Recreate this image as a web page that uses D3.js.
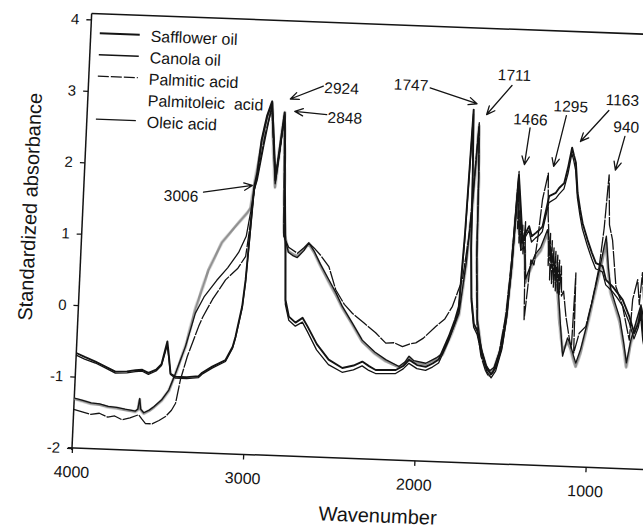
<!DOCTYPE html>
<html>
<head>
<meta charset="utf-8">
<script src="https://cdn.jsdelivr.net/npm/d3@7"></script>
<style>
  body { margin: 0; background: #fff; }
  svg { display: block; }
</style>
</head>
<body>
<svg id="chart" width="643" height="529"></svg>
<script>
// FTIR spectra, standardized absorbance vs. wavenumber (cm-1): [wavenumber, absorbance]
const safflowerOil = [
  [4000,-0.67],[3950,-0.72],[3886,-0.78],[3830,-0.84],[3767,-0.91],[3700,-0.90],[3650,-0.88],[3611,-0.87],
  [3574,-0.91],[3530,-0.86],[3500,-0.78],[3486,-0.62],[3472,-0.46],[3460,-0.65],[3445,-0.91],[3415,-0.95],
  [3350,-0.95],[3281,-0.93],[3261,-0.88],[3204,-0.79],[3128,-0.69],[3090,-0.50],[3076,-0.36],[3045,0.07],
  [3032,0.44],[3020,1.05],[3006,1.75],[2992,1.95],[2976,2.40],[2950,2.75],[2924,2.95],[2905,2.45],
  [2885,1.85],[2868,2.30],[2848,2.80],[2838,2.35],[2829,1.82],[2807,0.88],[2794,0.18],[2770,-0.05],
  [2730,-0.13],[2690,-0.06],[2658,-0.18],[2600,-0.42],[2527,-0.63],[2445,-0.74],[2380,-0.70],[2330,-0.64],
  [2290,-0.70],[2250,-0.75],[2133,-0.74],[2090,-0.68],[2058,-0.59],[2010,-0.66],[1959,-0.68],[1920,-0.63],
  [1885,-0.57],[1832,-0.24],[1800,0.00],[1782,0.18],[1765,1.20],[1747,2.94],[1735,2.00],[1725,1.00],
  [1710,0.30],[1690,-0.05],[1668,-0.15],[1634,-0.45],[1600,-0.68],[1575,-0.75],[1550,-0.65],[1520,-0.35],
  [1500,0.10],[1485,0.80],[1466,2.05],[1447,1.61],[1428,1.15],[1410,1.25],[1393,1.34],[1375,1.20],
  [1352,1.25],[1330,1.30],[1315,1.34],[1284,1.77],[1246,1.82],[1228,1.89],[1200,1.96],[1180,2.20],
  [1163,2.46],[1150,2.35],[1137,2.25],[1119,1.83],[1100,1.60],[1082,1.41],[1049,1.18],[1020,1.00],
  [994,0.86],[954,0.82],[931,0.63],[890,0.54],[859,0.45],[828,0.36],[785,0.13],[752,-0.10],
  [730,0.05],[720,0.25],[700,-0.10],[680,-0.30],[650,-0.40]
];
const canolaOil = [
  [4000,-0.70],[3950,-0.75],[3886,-0.80],[3830,-0.86],[3767,-0.93],[3700,-0.92],[3650,-0.90],[3611,-0.89],
  [3574,-0.93],[3530,-0.88],[3500,-0.80],[3486,-0.66],[3472,-0.52],[3460,-0.68],[3445,-0.92],[3415,-0.97],
  [3350,-0.97],[3281,-0.95],[3261,-0.90],[3204,-0.81],[3128,-0.71],[3090,-0.52],[3076,-0.38],[3045,0.04],
  [3032,0.40],[3020,1.00],[3006,1.72],[2992,1.92],[2976,2.38],[2950,2.72],[2924,2.93],[2905,2.40],
  [2885,1.90],[2868,2.25],[2848,2.77],[2838,2.30],[2829,1.78],[2807,0.82],[2794,0.12],[2770,-0.10],
  [2730,-0.18],[2690,-0.12],[2658,-0.25],[2600,-0.50],[2527,-0.70],[2445,-0.80],[2380,-0.76],[2330,-0.70],
  [2290,-0.76],[2250,-0.80],[2133,-0.79],[2090,-0.72],[2058,-0.64],[2010,-0.71],[1959,-0.73],[1920,-0.68],
  [1885,-0.62],[1832,-0.30],[1800,-0.05],[1782,0.12],[1765,1.10],[1747,2.88],[1735,1.95],[1725,0.95],
  [1710,0.25],[1690,-0.10],[1668,-0.20],[1634,-0.50],[1600,-0.72],[1575,-0.80],[1550,-0.70],[1520,-0.40],
  [1500,0.05],[1485,0.75],[1466,2.00],[1447,1.55],[1428,1.10],[1410,1.20],[1393,1.28],[1375,1.12],
  [1352,1.18],[1330,1.22],[1315,1.27],[1284,1.68],[1246,1.74],[1228,1.80],[1200,1.88],[1180,2.10],
  [1163,2.38],[1150,2.28],[1137,2.15],[1119,1.76],[1100,1.52],[1082,1.33],[1049,1.10],[1020,0.92],
  [994,0.78],[954,0.74],[931,0.56],[890,0.47],[859,0.38],[828,0.28],[785,0.05],[752,-0.18],
  [730,-0.02],[720,0.15],[700,-0.20],[680,-0.40],[650,-0.50]
];
const palmiticAcid = [
  [4000,-1.46],[3950,-1.49],[3900,-1.52],[3850,-1.50],[3800,-1.55],[3760,-1.53],[3715,-1.58],[3670,-1.55],
  [3620,-1.50],[3600,-1.56],[3578,-1.62],[3540,-1.62],[3500,-1.57],[3463,-1.51],[3430,-1.42],[3408,-1.32],
  [3386,-0.99],[3352,-0.66],[3293,-0.23],[3272,-0.10],[3220,0.15],[3149,0.43],[3080,0.60],[3038,0.77],
  [3020,1.20],[3006,1.68],[2985,2.00],[2955,2.50],[2924,2.85],[2905,2.35],[2885,1.90],[2868,2.25],
  [2848,2.75],[2835,2.00],[2821,1.07],[2790,0.92],[2737,0.84],[2700,0.92],[2673,0.99],[2640,0.92],
  [2600,0.82],[2550,0.67],[2504,0.35],[2450,0.15],[2401,0.03],[2330,-0.10],[2260,-0.23],[2198,-0.37],
  [2150,-0.36],[2100,-0.41],[2060,-0.37],[2023,-0.35],[1980,-0.28],[1911,-0.11],[1860,0.00],[1819,0.18],
  [1790,0.40],[1768,0.56],[1740,1.20],[1711,2.76],[1700,2.00],[1690,0.80],[1670,-0.10],[1640,-0.50],
  [1610,-0.70],[1590,-0.78],[1565,-0.72],[1535,-0.45],[1505,0.10],[1485,0.90],[1466,2.10],[1460,1.30],
  [1455,1.55],[1448,1.10],[1442,1.50],[1436,1.00],[1430,1.35],[1422,0.95],[1415,1.40],[1405,0.60],
  [1398,0.03],[1390,0.31],[1374,0.87],[1355,0.80],[1340,1.16],[1322,1.72],[1295,2.09],[1285,1.50],
  [1278,1.30],[1272,0.80],[1266,1.25],[1260,0.60],[1254,1.15],[1248,0.55],[1242,1.05],[1236,0.50],
  [1230,1.00],[1224,0.45],[1218,0.95],[1212,0.42],[1206,0.88],[1200,0.40],[1194,0.80],[1186,0.38],
  [1175,0.45],[1155,0.10],[1130,-0.20],[1115,-0.35],[1108,0.71],[1100,-0.41],[1073,-0.13],[1036,-0.03],
  [1004,0.35],[974,0.81],[955,1.35],[940,2.10],[925,1.40],[903,1.19],[871,0.54],[827,0.27],
  [800,0.00],[779,-0.20],[770,0.37],[746,0.65],[730,0.30],[720,0.75],[700,0.20],[680,-0.10],[650,0.10]
];
const palmitoleicAcid = [
  [4000,-1.31],[3950,-1.34],[3900,-1.37],[3850,-1.38],[3800,-1.41],[3750,-1.42],[3700,-1.44],[3640,-1.46],
  [3626,-1.43],[3618,-1.29],[3610,-1.43],[3591,-1.48],[3560,-1.44],[3534,-1.39],[3490,-1.29],[3451,-1.15],
  [3416,-0.91],[3365,-0.52],[3316,0.02],[3251,0.56],[3180,0.95],[3100,1.20],[3040,1.38],[3022,1.45],
  [3006,1.78],[2985,2.15],[2955,2.60],[2924,2.93],[2905,2.30],[2885,1.75],[2868,2.30],[2848,2.80],
  [2835,2.10],[2821,1.12],[2790,0.86],[2760,0.82],[2737,0.80],[2700,0.90],[2673,0.98],[2640,0.86],
  [2600,0.68],[2550,0.47],[2500,0.27],[2461,0.10],[2400,-0.12],[2336,-0.36],[2260,-0.52],[2194,-0.62],
  [2115,-0.70],[2080,-0.64],[2059,-0.56],[2030,-0.62],[1960,-0.65],[1900,-0.57],[1865,-0.50],[1820,-0.22],
  [1779,0.07],[1750,0.78],[1730,1.55],[1711,2.72],[1700,2.00],[1690,0.90],[1670,0.00],[1640,-0.42],
  [1610,-0.64],[1585,-0.72],[1560,-0.67],[1530,-0.42],[1505,-0.02],[1485,0.68],[1466,1.90],[1450,1.25],
  [1435,1.05],[1413,1.00],[1400,0.55],[1380,0.70],[1350,0.90],[1320,1.00],[1285,1.25],[1260,0.95],
  [1240,0.78],[1210,0.45],[1190,0.00],[1164,-0.40],[1140,-0.25],[1120,-0.35],[1100,-0.50],[1085,-0.60],
  [1060,-0.40],[1030,-0.05],[1000,0.35],[970,0.72],[940,1.15],[920,0.75],[900,0.45],[870,0.25],
  [840,0.05],[810,-0.30],[790,-0.58],[770,-0.25],[750,-0.05],[720,0.25],[700,0.05],[680,-0.25],[650,-0.15]
];
const oleicAcid = [
  [4000,-1.30],[3950,-1.33],[3900,-1.36],[3850,-1.37],[3800,-1.40],[3750,-1.41],[3700,-1.43],[3640,-1.45],
  [3626,-1.42],[3618,-1.27],[3610,-1.42],[3591,-1.47],[3560,-1.43],[3534,-1.38],[3490,-1.28],[3451,-1.14],
  [3416,-0.90],[3365,-0.52],[3316,-0.05],[3270,0.18],[3200,0.42],[3140,0.60],[3080,0.82],[3040,1.05],
  [3020,1.40],[3006,1.70],[2990,1.85],[2960,2.35],[2924,2.90],[2905,2.40],[2885,1.80],[2868,2.20],
  [2848,2.78],[2835,2.00],[2821,1.10],[2790,0.85],[2760,0.80],[2737,0.78],[2700,0.88],[2673,0.99],
  [2640,0.88],[2600,0.70],[2550,0.50],[2500,0.30],[2461,0.12],[2400,-0.10],[2336,-0.34],[2260,-0.50],
  [2194,-0.60],[2115,-0.69],[2080,-0.62],[2059,-0.54],[2030,-0.60],[1960,-0.63],[1900,-0.55],[1865,-0.48],
  [1820,-0.20],[1779,0.09],[1750,0.80],[1730,1.60],[1711,2.70],[1700,2.00],[1690,0.90],[1670,0.00],
  [1640,-0.40],[1610,-0.62],[1585,-0.70],[1560,-0.65],[1530,-0.40],[1505,0.00],[1485,0.70],[1466,1.95],
  [1450,1.30],[1435,1.00],[1413,1.05],[1400,0.60],[1380,0.75],[1350,0.95],[1320,1.05],[1285,1.30],
  [1260,1.00],[1240,0.85],[1210,0.55],[1190,0.10],[1164,-0.46],[1140,-0.20],[1120,-0.30],[1100,-0.45],
  [1085,-0.55],[1060,-0.35],[1030,0.00],[1000,0.40],[970,0.80],[940,1.24],[920,0.80],[900,0.50],
  [870,0.30],[840,0.10],[810,-0.25],[790,-0.52],[770,-0.20],[750,0.00],[720,0.30],[700,0.10],
  [680,-0.20],[650,-0.10]
];

const seriesNames = ["Safflower oil", "Canola oil", "Palmitic acid", "Palmitoleic  acid", "Oleic acid"];
const xTicks = [4000, 3000, 2000, 1000];
const yTicks = [-2, -1, 0, 1, 2, 3, 4];

// Band assignments marked with arrows
const peakLabels = ["3006", "2924", "2848", "1747", "1711", "1466", "1295", "1163", "940"];
const peakWavenumbers = [3006, 2924, 2848, 1747, 1711, 1466, 1295, 1163, 940];
const peakAbsorbance = [1.75, 2.95, 2.80, 2.94, 2.78, 2.10, 2.09, 2.46, 2.10];

// ---- drawing ----
const FONT = "'Liberation Sans', Arial, Helvetica, sans-serif";
const INK = "#141414";

const svg = d3.select("#chart");
svg.append("rect").attr("width", 643).attr("height", 529).attr("fill", "#fff");

const x = d3.scaleLinear().domain([4000, 400]).range([0, 616.8]);
const y = d3.scaleLinear().domain([-2, 4]).range([0, -429]);
const frameTop = y(4) - 6;
const frameRight = x(400);

// the whole figure sits slightly tilted on the page
const root = svg.append("g")
  .attr("transform", "matrix(0.9993,0.0375,-0.0452,0.999,72,448)")
  .style("font-family", FONT);

const defs = root.append("defs");
defs.append("clipPath").attr("id", "plot-clip")
  .append("rect").attr("x", 0).attr("y", frameTop).attr("width", frameRight).attr("height", -frameTop);
defs.append("filter").attr("id", "soft").attr("x", "-5%").attr("y", "-5%").attr("width", "110%").attr("height", "110%")
  .append("feGaussianBlur").attr("stdDeviation", 0.7);

// frame lines
const frame = root.append("g").attr("stroke", INK).attr("stroke-width", 1.5).attr("fill", "none");
frame.append("line").attr("x1", 0).attr("x2", 0).attr("y1", 2).attr("y2", frameTop);
frame.append("line").attr("x1", -4).attr("x2", frameRight).attr("y1", 0).attr("y2", 0);
frame.append("line").attr("x1", 0).attr("x2", frameRight).attr("y1", frameTop).attr("y2", frameTop);

// axes
const yAxisG = root.append("g")
  .call(d3.axisLeft(y).tickValues(yTicks).tickSize(5).tickPadding(7).tickFormat(d => String(d)));
const xAxisG = root.append("g")
  .call(d3.axisBottom(x).tickValues(xTicks).tickSize(5).tickPadding(13).tickFormat(d => String(d)));
[yAxisG, xAxisG].forEach(g => {
  g.attr("font-family", null).attr("font-size", null);
  g.select(".domain").remove();
  g.selectAll(".tick line").attr("stroke", INK).attr("stroke-width", 1.3);
  g.selectAll(".tick text").attr("fill", INK).style("font-family", FONT);
});
yAxisG.selectAll(".tick text").style("font-size", "15px");
xAxisG.selectAll(".tick text").style("font-size", "16px");

// axis titles
root.append("text")
  .attr("x", (x.range()[0] + x.range()[1]) / 2).attr("y", 63)
  .attr("text-anchor", "middle").attr("fill", INK).style("font-size", "20px")
  .text("Wavenumber");
root.append("text")
  .attr("transform", `translate(-46,${(y(4) + y(-2)) / 2 - 25}) rotate(-90)`)
  .attr("text-anchor", "middle").attr("fill", INK).style("font-size", "20px")
  .text("Standardized absorbance");

// spectra
const styles = {
  "Safflower oil":     { stroke: INK, width: 1.9 },
  "Canola oil":        { stroke: INK, width: 1.3 },
  "Palmitic acid":     { stroke: INK, width: 1.3, dash: "16,1.2", legendDash: "11,2" },
  "Palmitoleic  acid": { stroke: "#8f8f8f", width: 2.6, soft: true },
  "Oleic acid":        { stroke: INK, width: 1.3 }
};
const seriesValues = {
  "Safflower oil": safflowerOil,
  "Canola oil": canolaOil,
  "Palmitic acid": palmiticAcid,
  "Palmitoleic  acid": palmitoleicAcid,
  "Oleic acid": oleicAcid
};
const drawOrder = ["Palmitoleic  acid", "Oleic acid", "Palmitic acid", "Canola oil", "Safflower oil"];

const line = d3.line().x(d => x(d[0])).y(d => y(d[1]));
const plot = root.append("g").attr("clip-path", "url(#plot-clip)");
drawOrder.forEach(name => {
  const s = styles[name];
  plot.append("path")
    .datum(seriesValues[name])
    .attr("d", line)
    .attr("fill", "none")
    .attr("stroke", s.stroke)
    .attr("stroke-width", s.width)
    .attr("stroke-linejoin", "round")
    .attr("stroke-dasharray", s.dash || null)
    .attr("filter", s.soft ? "url(#soft)" : null);
});

// legend
const legend = root.append("g").attr("transform", "translate(9,-415.5)");
seriesNames.forEach((name, i) => {
  const s = styles[name];
  const row = legend.append("g").attr("transform", `translate(0,${i * 21.5})`);
  row.append("line")
    .attr("x1", 0).attr("x2", s.soft ? 30 : 40).attr("y1", 0).attr("y2", 0)
    .attr("stroke", s.soft ? "#bdbdbd" : s.stroke)
    .attr("stroke-width", s.soft ? 2.4 : Math.max(1.3, s.width))
    .attr("stroke-dasharray", s.legendDash || null)
    .attr("filter", s.soft ? "url(#soft)" : null);
  row.append("text")
    .attr("x", 51).attr("y", 6.6)
    .attr("fill", INK).style("font-size", "16px").style("white-space", "pre")
    .text(name);
});

// peak callouts: tip offset from the peak, tail offset from the tip, text offset from the tail
const calloutLayout = [
  { tip: [-2, -1],  tail: [-48.5, 8.5],   text: [-5, 10],   anchor: "end" },
  { tip: [18, -3],  tail: [32.4, -14.2],  text: [1, 7],     anchor: "start" },
  { tip: [10, -1.5], tail: [32, 2],       text: [1, 8],     anchor: "start" },
  { tip: [3, -6],   tail: [-47.5, -14],   text: [-2, 3],    anchor: "end" },
  { tip: [7, -7],   tail: [24, -30],      text: [2, -5],    anchor: "middle" },
  { tip: [5, -7],   tail: [4, -37],       text: [0, -3],    anchor: "middle" },
  { tip: [5, -7],   tail: [10.4, -51.2],  text: [4, -4],    anchor: "middle" },
  { tip: [8, -6.5], tail: [27, -32],      text: [13, -5.5], anchor: "middle" },
  { tip: [6, -5],   tail: [8, -34],       text: [-12, -4],  anchor: "start" }
];

const callouts = root.append("g");
peakLabels.forEach((label, i) => {
  const L = calloutLayout[i];
  const px = x(peakWavenumbers[i]), py = y(peakAbsorbance[i]);
  const tx = px + L.tip[0], ty = py + L.tip[1];
  const sx = tx + L.tail[0], sy = ty + L.tail[1];
  const ang = Math.atan2(ty - sy, tx - sx);
  const head = 9, spread = 0.42;
  const h1 = [tx - head * Math.cos(ang - spread), ty - head * Math.sin(ang - spread)];
  const h2 = [tx - head * Math.cos(ang + spread), ty - head * Math.sin(ang + spread)];
  callouts.append("path")
    .attr("d", `M${sx},${sy}L${tx},${ty}M${h1[0]},${h1[1]}L${tx},${ty}L${h2[0]},${h2[1]}`)
    .attr("fill", "none").attr("stroke", INK).attr("stroke-width", 1.3)
    .attr("stroke-linecap", "round").attr("stroke-linejoin", "round");
  callouts.append("text")
    .attr("x", sx + L.text[0]).attr("y", sy + L.text[1])
    .attr("text-anchor", L.anchor).attr("fill", INK).style("font-size", "15.5px")
    .text(label);
});
</script>
</body>
</html>
